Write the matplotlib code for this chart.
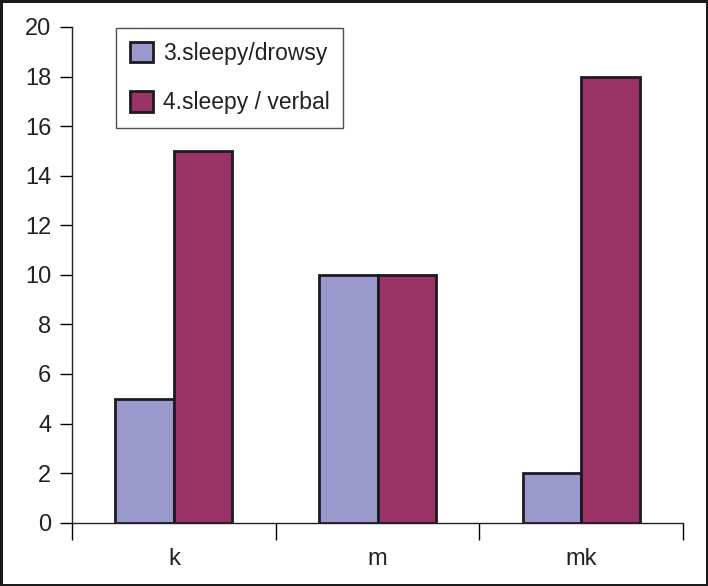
import matplotlib.pyplot as plt
import numpy as np

plt.rcParams['font.family'] = ['Liberation Sans', 'DejaVu Sans']

categories = ['k', 'm', 'mk']
series_names = ['3.sleepy/drowsy', '4.sleepy / verbal']
drowsy = [5, 10, 2]
verbal = [15, 10, 18]
y_ticks = [0, 2, 4, 6, 8, 10, 12, 14, 16, 18, 20]

col_drowsy = '#9999cc'
col_verbal = '#993366'
edge = '#1e1a24'

fig = plt.figure(figsize=(7.08, 5.86), dpi=100)
fig.patch.set_edgecolor('#1a1a1a')
fig.patch.set_linewidth(2.5)
ax = fig.add_axes([0.1017, 0.108, 0.863, 0.846])

x = np.arange(len(categories))
w = 0.2875
ax.bar(x - w / 2, drowsy, w, color=col_drowsy, edgecolor=edge, linewidth=2,
       label=series_names[0], zorder=3)
ax.bar(x + w / 2, verbal, w, color=col_verbal, edgecolor=edge, linewidth=2,
       label=series_names[1], zorder=3)

ax.set_xlim(-0.5, len(categories) - 0.5)
ax.set_ylim(0, 20)
ax.set_yticks(y_ticks)
ax.tick_params(axis='y', direction='out', length=9, width=1, labelsize=17,
               pad=6, labelcolor='#222222')

# category boundaries as major ticks, names as minor ticks
ax.set_xticks(np.arange(-0.5, len(categories), 1.0))
ax.set_xticklabels([])
ax.set_xticks(x, minor=True)
ax.set_xticklabels(categories, minor=True)
ax.tick_params(axis='x', which='major', direction='out', length=12, width=1)
ax.tick_params(axis='x', which='minor', length=0, labelsize=17, pad=18,
               labelcolor='#222222')

for s in ['top', 'right']:
    ax.spines[s].set_visible(False)
for s in ['left', 'bottom']:
    ax.spines[s].set_linewidth(1)
    ax.spines[s].set_color('#222222')

leg = ax.legend(loc='upper left', bbox_to_anchor=(0.072, 0.998), fontsize=16.5,
                frameon=True, fancybox=False, edgecolor='#222222',
                handlelength=1.0, handleheight=1.0, labelspacing=1.15,
                borderpad=0.6, handletextpad=0.45, borderaxespad=0)
leg.get_frame().set_linewidth(1)
for t in leg.get_texts():
    t.set_color('#222222')

fig.savefig('out.png', dpi=100)
